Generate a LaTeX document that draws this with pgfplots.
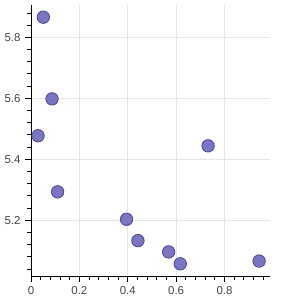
\documentclass[border=0pt]{standalone}
\usepackage{pgfplots}
\pgfplotsset{compat=1.18}
\usepackage{fontspec}
\setmainfont{Liberation Sans}
\definecolor{mfill}{RGB}{122,118,194}
\definecolor{medge}{RGB}{80,76,158}
\definecolor{gridc}{RGB}{229,229,229}
\definecolor{labc}{RGB}{68,68,68}
\begin{document}
\begin{tikzpicture}
\path[use as bounding box] (0,0) rectangle (300bp,300bp);
\begin{axis}[
  at={(31bp,24bp)}, anchor=south west,
  scale only axis, width=239bp, height=271bp,
  xmin=0, xmax=0.988, ymin=5.017, ymax=5.906,
  axis lines=left, axis line style={-, black, line width=0.8bp},
  xtick={0,0.2,0.4,0.6,0.8}, ytick={5.2,5.4,5.6,5.8},
  minor xtick={0.04,0.08,0.12,0.16,0.24,0.28,0.32,0.36,0.44,0.48,0.52,0.56,0.64,0.68,0.72,0.76,0.84,0.88,0.92,0.96},
  minor ytick={5.04,5.08,5.12,5.16,5.24,5.28,5.32,5.36,5.44,5.48,5.52,5.56,5.64,5.68,5.72,5.76,5.84,5.88},
  xticklabels={0,0.2,0.4,0.6,0.8}, yticklabels={5.2,5.4,5.6,5.8},
  tick align=outside, major tick length=6bp, minor tick length=4bp,
  tick style={black, line width=0.8bp},
  grid=major, major grid style={gridc, line width=0.8bp},
  tick label style={font=\fontsize{11.5}{13}\selectfont, text=labc},
  /pgf/number format/assume math mode=true,
  xticklabel style={yshift=-1bp},
  yticklabel style={xshift=-1bp},
]
\addplot[only marks, mark=*, mark size=6.2bp, mark options={fill=mfill, draw=medge, line width=0.9bp}] coordinates {
(0.051,5.866) (0.087,5.598) (0.029,5.477) (0.110,5.293) (0.395,5.203)
(0.442,5.133) (0.569,5.096) (0.617,5.057) (0.732,5.444) (0.943,5.066)
};
\end{axis}
\end{tikzpicture}
\end{document}
